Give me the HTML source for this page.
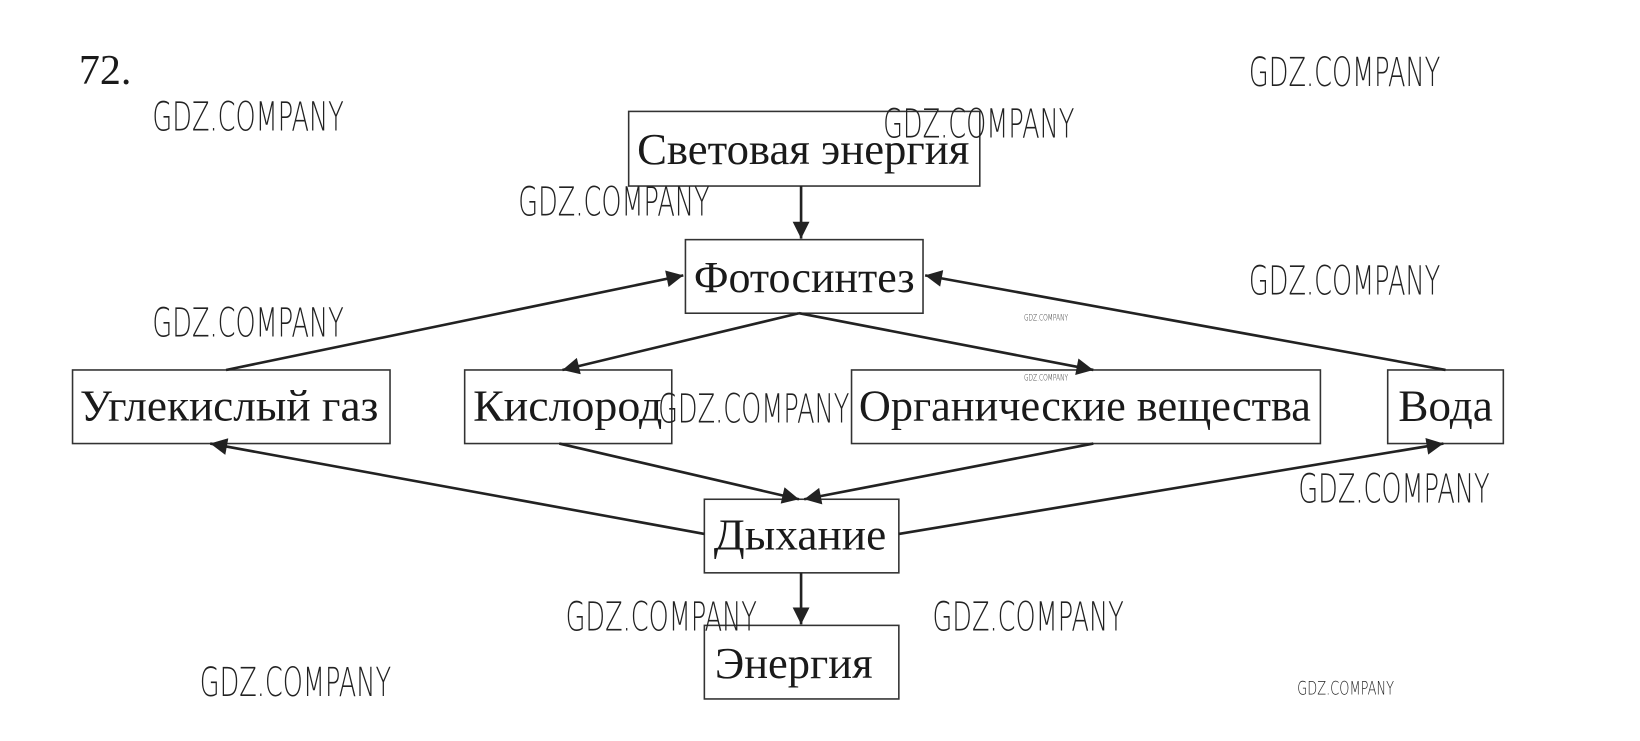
<!DOCTYPE html>
<html><head><meta charset="utf-8"><style>html,body{margin:0;padding:0;background:#fff;width:1640px;height:741px;overflow:hidden}</style></head>
<body>
<svg width="1640" height="741" viewBox="0 0 1560 705" preserveAspectRatio="none" xmlns="http://www.w3.org/2000/svg">
<defs>
<marker id="b" viewBox="0 0 10 10" refX="10" refY="5" markerWidth="22" markerHeight="16" markerUnits="userSpaceOnUse" orient="auto"><path d="M0,0L10,5L0,10z" fill="#222"/></marker></defs>
<g font-family="Liberation Serif, serif" font-size="42" fill="#1a1a1a" text-anchor="middle">
<text x="75" y="80" text-anchor="start" font-size="40">72.</text>
<g fill="#fff" stroke="#333" stroke-width="1.5">
<rect x="598" y="106" width="334" height="71"/>
<rect x="652" y="228" width="226" height="70"/>
<rect x="69" y="352" width="302" height="70"/>
<rect x="442" y="352" width="197" height="70"/>
<rect x="810" y="352" width="446" height="70"/>
<rect x="1320" y="352" width="110" height="70"/>
<rect x="670" y="475" width="185" height="70"/>
<rect x="670" y="595" width="185" height="70"/>
</g>
<text x="764" y="156" textLength="316" lengthAdjust="spacingAndGlyphs">Световая энергия</text>
<text x="765" y="278" textLength="210" lengthAdjust="spacingAndGlyphs">Фотосинтез</text>
<text x="218" y="400" textLength="284" lengthAdjust="spacingAndGlyphs">Углекислый газ</text>
<text x="540" y="400" textLength="180" lengthAdjust="spacingAndGlyphs">Кислород</text>
<text x="1032" y="400" textLength="430" lengthAdjust="spacingAndGlyphs">Органические вещества</text>
<text x="1375" y="400" textLength="90" lengthAdjust="spacingAndGlyphs">Вода</text>
<text x="761" y="523" textLength="164" lengthAdjust="spacingAndGlyphs">Дыхание</text>
<text x="755" y="645" textLength="150" lengthAdjust="spacingAndGlyphs">Энергия</text>
</g>
<g stroke="#222" stroke-width="2.5" fill="none" marker-end="url(#b)">
<line x1="762" y1="177" x2="762" y2="227"/>
<line x1="215" y1="352" x2="650" y2="262"/>
<line x1="1375" y1="352" x2="880" y2="262"/>
<line x1="760" y1="298" x2="535" y2="352"/>
<line x1="760" y1="298" x2="1040" y2="352"/>
<line x1="532" y1="422" x2="760" y2="475"/>
<line x1="1040" y1="422" x2="765" y2="475"/>
<line x1="670" y1="508" x2="200" y2="422"/>
<line x1="855" y1="508" x2="1373" y2="422"/>
<line x1="762" y1="545" x2="762" y2="594"/>
</g>
<g font-family="DejaVu Sans, sans-serif" font-weight="200" font-size="38" fill="#222">
<text x="1188" y="82" textLength="182" lengthAdjust="spacingAndGlyphs">GDZ.COMPANY</text>
<text x="145" y="124" textLength="182" lengthAdjust="spacingAndGlyphs">GDZ.COMPANY</text>
<text x="840" y="131" textLength="182" lengthAdjust="spacingAndGlyphs">GDZ.COMPANY</text>
<text x="493" y="205" textLength="182" lengthAdjust="spacingAndGlyphs">GDZ.COMPANY</text>
<text x="1188" y="280" textLength="182" lengthAdjust="spacingAndGlyphs">GDZ.COMPANY</text>
<text x="145" y="320" textLength="182" lengthAdjust="spacingAndGlyphs">GDZ.COMPANY</text>
<text x="626" y="402" textLength="182" lengthAdjust="spacingAndGlyphs">GDZ.COMPANY</text>
<text x="1235" y="478" textLength="182" lengthAdjust="spacingAndGlyphs">GDZ.COMPANY</text>
<text x="538" y="600" textLength="182" lengthAdjust="spacingAndGlyphs">GDZ.COMPANY</text>
<text x="887" y="600" textLength="182" lengthAdjust="spacingAndGlyphs">GDZ.COMPANY</text>
<text x="190" y="662" textLength="182" lengthAdjust="spacingAndGlyphs">GDZ.COMPANY</text>
<text x="1234" y="661" font-size="18" textLength="92" lengthAdjust="spacingAndGlyphs">GDZ.COMPANY</text>
<text x="974" y="305" font-size="8" textLength="42" lengthAdjust="spacingAndGlyphs">GDZ.COMPANY</text>
<text x="974" y="362" font-size="8" textLength="42" lengthAdjust="spacingAndGlyphs">GDZ.COMPANY</text>
</g>
</svg>
</body></html>
